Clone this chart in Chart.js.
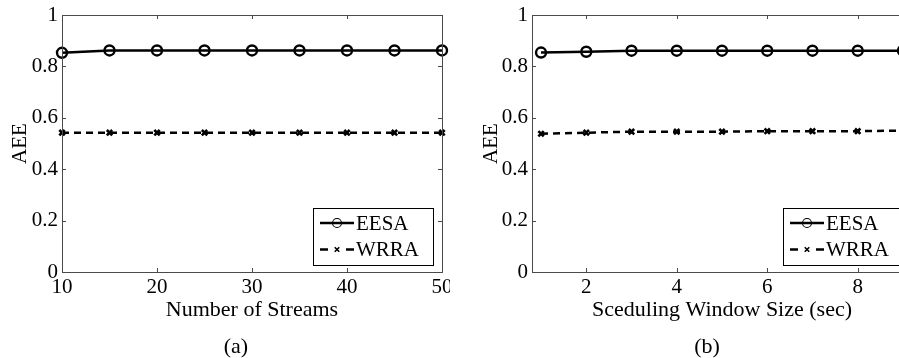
<!DOCTYPE html>
<html>
<head>
<meta charset="utf-8">
<script src="https://cdn.jsdelivr.net/npm/chart.js@4"></script>
<style>
    html, body { margin: 0; padding: 0; background: #fff; overflow: hidden; }
    body { width: 899px; height: 358px; position: relative; }
    canvas { position: absolute; top: 0; }
    #chartA { left: 0; }
    #chartB { left: 450px; }
    .caption {
        position: absolute; top: 333px; width: 60px; text-align: center;
        font-family: 'Liberation Serif', serif; font-size: 22px; color: #000;
    }
</style>
</head>
<body>
<canvas id="chartA" width="450" height="358"></canvas>
<canvas id="chartB" width="470" height="358"></canvas>
<div class="caption" style="left: 206px;">(a)</div>
<div class="caption" style="left: 677px;">(b)</div>

<script>
// --- Data ---
const streamsX = [10, 15, 20, 25, 30, 35, 40, 45, 50];
const eesaStreams = [0.853, 0.862, 0.862, 0.862, 0.862, 0.862, 0.862, 0.862, 0.862];
const wrraStreams = [0.542, 0.542, 0.542, 0.542, 0.542, 0.542, 0.542, 0.542, 0.542];

const windowX = [1, 2, 3, 4, 5, 6, 7, 8, 9];
const eesaWindow = [0.854, 0.857, 0.861, 0.861, 0.861, 0.861, 0.861, 0.861, 0.861];
const wrraWindow = [0.538, 0.542, 0.546, 0.546, 0.546, 0.548, 0.548, 0.548, 0.550];

const yTicks = [0, 0.2, 0.4, 0.6, 0.8, 1];
const streamsTicks = [10, 20, 30, 40, 50];
const windowTicks = [2, 4, 6, 8];

const seriesNames = ['EESA', 'WRRA'];

const FONT = "'Liberation Serif', serif";
const AXIS_COLOR = '#4a4a4a';

const toPoints = (xs, ys) => xs.map((x, i) => ({ x: x, y: ys[i] }));

// --- Frame with inward ticks on all four sides (matlab style) ---
const framePlugin = {
    id: 'frame',
    afterDatasetsDraw(chart) {
        const { ctx, chartArea: a, scales } = chart;
        const len = 4;
        ctx.save();
        ctx.strokeStyle = AXIS_COLOR;
        ctx.lineWidth = 1;
        ctx.strokeRect(a.left + 0.5, a.top + 0.5, a.right - a.left, a.bottom - a.top);
        ctx.beginPath();
        scales.x.ticks.forEach(t => {
            const px = Math.round(scales.x.getPixelForValue(t.value)) + 0.5;
            ctx.moveTo(px, a.bottom); ctx.lineTo(px, a.bottom - len);
            ctx.moveTo(px, a.top); ctx.lineTo(px, a.top + len);
        });
        scales.y.ticks.forEach(t => {
            const py = Math.round(scales.y.getPixelForValue(t.value)) + 0.5;
            ctx.moveTo(a.left, py); ctx.lineTo(a.left + len, py);
            ctx.moveTo(a.right, py); ctx.lineTo(a.right - len, py);
        });
        ctx.stroke();
        ctx.restore();
    }
};

// --- Boxed legend inside the plot, lower right ---
const boxLegendPlugin = {
    id: 'boxLegend',
    afterDraw(chart, args, opts) {
        const { ctx, chartArea: a } = chart;
        const w = opts.width, h = opts.height;
        const x0 = a.right - opts.right - w;
        const y0 = a.bottom - opts.bottom - h;
        ctx.save();
        ctx.fillStyle = '#fff';
        ctx.fillRect(x0, y0, w, h);
        ctx.strokeStyle = '#000';
        ctx.lineWidth = 1;
        ctx.strokeRect(x0 + 0.5, y0 + 0.5, w, h);

        chart.data.datasets.forEach((ds, i) => {
            const cy = y0 + 15 + i * 26.5;
            const sx = x0 + 7, ex = sx + 34;
            ctx.strokeStyle = '#000';
            ctx.lineWidth = ds.borderWidth;
            ctx.beginPath();
            if (ds.borderDash) {
                // dash - marker - dash, like the matlab legend sample
                ctx.moveTo(sx, cy); ctx.lineTo(sx + 8, cy);
                ctx.moveTo(ex - 8, cy); ctx.lineTo(ex, cy);
            } else {
                ctx.moveTo(sx, cy); ctx.lineTo(ex, cy);
            }
            ctx.stroke();
            ctx.lineWidth = ds.pointStyle === 'circle' ? 1.1 : 1.6;
            ctx.fillStyle = 'rgba(0,0,0,0)';
            Chart.helpers.drawPoint(ctx, {
                pointStyle: ds.pointStyle, radius: ds.pointStyle === 'circle' ? 4.5 : 3.2,
                borderWidth: 1, rotation: 0
            }, (sx + ex) / 2, cy);
            ctx.fillStyle = '#000';
            ctx.font = '21px ' + FONT;
            ctx.textBaseline = 'middle';
            ctx.textAlign = 'left';
            ctx.fillText(ds.label, ex + 2, cy + 1);
        });
        ctx.restore();
    }
};

function makeChart(canvasId, cfg) {
    const ctx = document.getElementById(canvasId);
    return new Chart(ctx, {
        type: 'line',
        data: {
            datasets: [{
                label: seriesNames[0],
                data: toPoints(cfg.xs, cfg.eesa),
                borderColor: '#000',
                borderWidth: 2.5,
                pointStyle: 'circle',
                pointRadius: 5,
                pointBorderWidth: 2.4,
                pointBorderColor: '#000',
                pointBackgroundColor: 'rgba(0,0,0,0)',
                tension: 0,
                clip: false
            }, {
                label: seriesNames[1],
                data: toPoints(cfg.xs, cfg.wrra),
                borderColor: '#000',
                borderWidth: 2.5,
                borderDash: [7, 5],
                pointStyle: 'crossRot',
                pointRadius: 3.8,
                pointBorderWidth: 2.6,
                pointBorderColor: '#000',
                tension: 0,
                clip: false
            }]
        },
        options: {
            responsive: false,
            animation: false,
            devicePixelRatio: 1,
            layout: { padding: { top: 15, right: cfg.padRight, left: 0, bottom: 0 } },
            plugins: {
                legend: { display: false },
                tooltip: { enabled: false },
                boxLegend: { right: 9, bottom: 7, width: 120, height: 57 }
            },
            scales: {
                x: {
                    type: 'linear',
                    min: cfg.xMin,
                    max: cfg.xMax,
                    grid: { display: false, drawTicks: false },
                    border: { display: false },
                    afterBuildTicks: s => { s.ticks = cfg.xTicks.map(v => ({ value: v })); },
                    afterFit: s => { s.height = 86; s.paddingLeft = 0; s.paddingRight = 0; },
                    ticks: {
                        padding: 3, color: '#000', maxRotation: 0, autoSkip: false,
                        font: { family: FONT, size: 21 },
                        callback: v => String(v)
                    },
                    title: {
                        display: true, text: cfg.xTitle, color: '#000',
                        font: { family: FONT, size: 22 },
                        padding: { top: 0, bottom: 35 }
                    }
                },
                y: {
                    min: 0,
                    max: 1,
                    grid: { display: false, drawTicks: false },
                    border: { display: false },
                    afterBuildTicks: s => { s.ticks = yTicks.map(v => ({ value: v })); },
                    afterFit: s => { s.width = cfg.yWidth; s.paddingTop = 0; s.paddingBottom = 0; },
                    ticks: {
                        padding: 4, color: '#000',
                        font: { family: FONT, size: 21 },
                        callback: v => String(v)
                    },
                    title: {
                        display: true, text: 'AEE', color: '#000',
                        font: { family: FONT, size: 21 },
                        padding: { top: cfg.yTitlePad, bottom: 0 }
                    }
                }
            }
        },
        plugins: [framePlugin, boxLegendPlugin]
    });
}

makeChart('chartA', {
    xs: streamsX, eesa: eesaStreams, wrra: wrraStreams,
    xMin: 10, xMax: 50, xTicks: streamsTicks,
    xTitle: 'Number of Streams',
    yWidth: 62, yTitlePad: 8, padRight: 8
});

makeChart('chartB', {
    xs: windowX, eesa: eesaWindow, wrra: wrraWindow,
    xMin: 0.8, xMax: 9.2, xTicks: windowTicks,
    xTitle: 'Sceduling Window Size (sec)',
    yWidth: 82, yTitlePad: 29, padRight: 8
});
</script>
</body>
</html>
